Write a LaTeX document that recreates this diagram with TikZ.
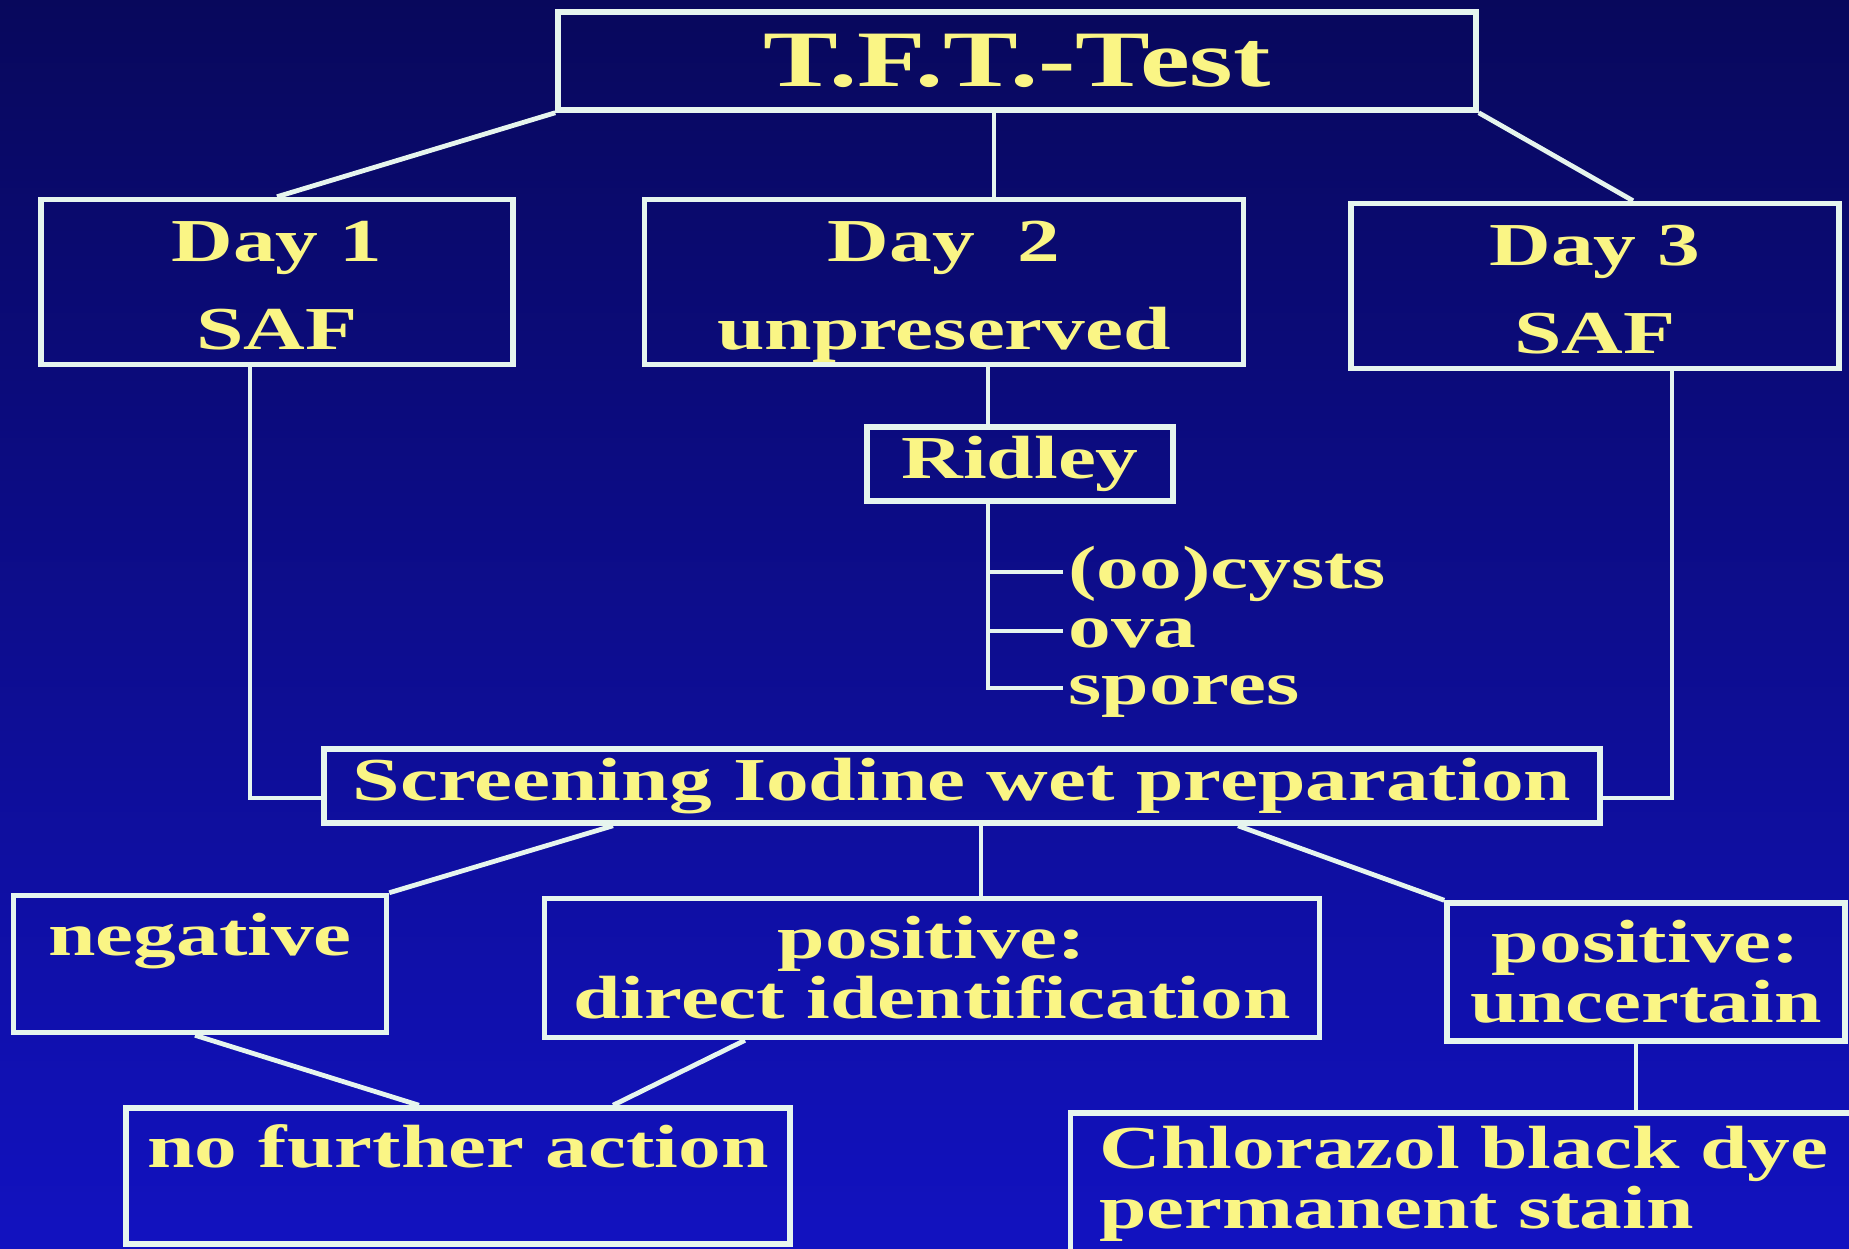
\documentclass[tikz,border=0pt]{standalone}
\usepackage{fontspec}
\usepackage{xcolor}
\newfontfamily\slidefont[FakeStretch=1.4]{Liberation Serif}
\definecolor{bgtop}{HTML}{08085C}
\definecolor{bgmid}{HTML}{0A0A96}
\definecolor{bgbot}{HTML}{1212C0}
\definecolor{wire}{HTML}{E6F5EE}
\definecolor{chalk}{HTML}{FAF585}

\begin{document}
\begin{tikzpicture}[x=1pt, y=-1pt, line width=4.8pt,
    box/.style={draw=wire, line width=5.5pt, inner sep=4pt, align=center, text=chalk,
                font=\slidefont\bfseries\fontsize{61}{60}\selectfont},
    daybox/.style={box, inner ysep=0pt, minimum height=165pt, font=\slidefont\bfseries\fontsize{61}{88}\selectfont},
    item/.style={anchor=west, inner xsep=3pt, inner ysep=0pt, text height=45pt, text depth=13pt,
                 text=chalk, font=\slidefont\bfseries\fontsize{61}{60}\selectfont}]

  % slide background
  \useasboundingbox (0,0) rectangle (1849,1248);
  \shade[top color=bgtop, middle color=bgmid, bottom color=bgbot] (0,0) rectangle (1849,1248);
  \clip (0,0) rectangle (1849,1248);

  % test and the three days
  \node[box, minimum width=918pt, minimum height=98pt,
        font=\slidefont\bfseries\fontsize{80}{90}\selectfont] (title) at (1017,61) {T.F.T.-Test};
  \node[daybox, minimum width=472pt] (day1) at (277,282) {\rule{0pt}{62pt}Day 1\\SAF\rule[-15pt]{0pt}{15pt}};
  \node[daybox, minimum width=599pt] (day2) at (944,282) {\rule{0pt}{62pt}Day~~2\\unpreserved\rule[-15pt]{0pt}{15pt}};
  \node[daybox, minimum width=488pt] (day3) at (1595,286) {\rule{0pt}{62pt}Day 3\\SAF\rule[-15pt]{0pt}{15pt}};

  \draw[wire] (title.south west) -- (day1.north);
  \draw[wire] ([xshift=-23pt]title.south) -- ([xshift=-23pt]title.south |- day2.north);
  \draw[wire] (title.south east) -- ([xshift=38pt]day3.north);

  % Ridley concentration
  \node[box, minimum width=306pt, minimum height=74pt] (ridley) at (1020,464) {Ridley};
  \node[item] (oocysts) at (1063,572) {(oo)cysts};
  \node[item] (ova) at (1063,631) {ova};
  \node[item] (spores) at (1063,688) {spores};

  \draw[wire] ([xshift=44pt]day2.south) -- ([xshift=44pt]day2.south |- ridley.north);
  \coordinate (rfoot) at ([xshift=44pt]day2.south |- ridley.south);
  \draw[wire] (rfoot) |- (spores.west);
  \draw[wire] (rfoot |- oocysts.west) -- (oocysts.west);
  \draw[wire] (rfoot |- ova.west) -- (ova.west);

  % screening
  \node[box, minimum width=1276pt, minimum height=74pt] (screening) at (962,786)
    {Screening Iodine wet preparation};

  \draw[wire] ([xshift=-27pt]day1.south) |- ([yshift=-12pt]screening.west);
  \draw[wire] ([xshift=77pt]day3.south) |- ([yshift=-12pt]screening.east);

  % results
  \node[box, minimum width=373pt, minimum height=137pt] (negative) at (200,964) {negative\\\mbox{}};
  \node[box, minimum width=775pt, minimum height=139pt] (posd) at (932,968) {positive:\\direct identification};
  \node[box, minimum width=398pt, minimum height=138pt] (posu) at (1646,972) {positive:\\uncertain};

  \draw[wire] ([xshift=-349pt]screening.south) -- (negative.north east);
  \draw[wire] ([xshift=19pt]screening.south) -- ([xshift=19pt]screening.south |- posd.north);
  \draw[wire] ([xshift=276pt]screening.south) -- (posu.north west);

  % follow-up
  \node[box, minimum width=664pt, minimum height=136pt] (nofurther) at (458,1176) {no further action\\\mbox{}};
  \node[box, text width=751pt, inner xsep=29pt, minimum height=142pt, align=left] (chlor) at (1475,1184)
    {Chlorazol black dye\\permanent stain};

  \draw[wire] ([xshift=-5pt]negative.south) -- ([xshift=-39pt]nofurther.north);
  \draw[wire] ([xshift=-187pt]posd.south) -- ([xshift=155pt]nofurther.north);
  \draw[wire] ([xshift=-10pt]posu.south) -- ([xshift=-10pt]posu.south |- chlor.north);
\end{tikzpicture}
\end{document}
